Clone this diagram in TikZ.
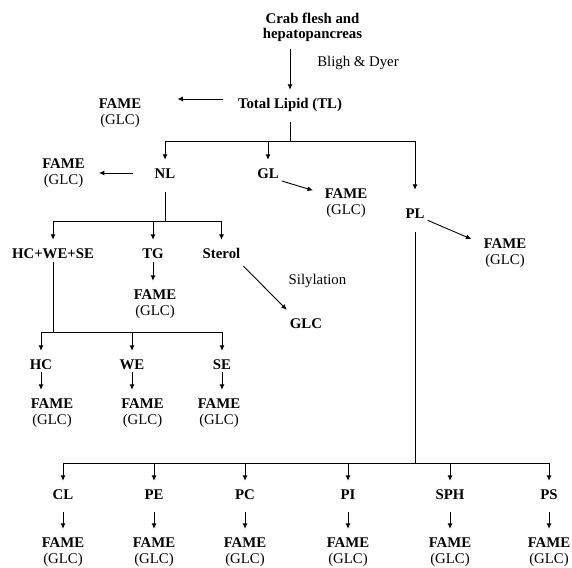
\documentclass[tikz,border=0pt]{standalone}
\usepackage{fontspec}
\setmainfont{Liberation Serif}
\usetikzlibrary{positioning,arrows.meta,calc}
\newcommand{\bodyfont}{\fontsize{14.8}{16}\selectfont}

\begin{document}
\begin{tikzpicture}[
    x=1pt, y=-1pt,
    lab/.style={inner xsep=3pt, inner ysep=8pt, text height=10pt, text depth=0pt,
                font=\bodyfont\bfseries},
    top/.style={align=center, inner xsep=3pt, inner ysep=8pt,
                font=\fontsize{14.8}{15}\selectfont\bfseries},
    paren/.style={inner sep=0pt, text height=10pt, text depth=0pt, font=\bodyfont, yshift=2pt},
    fame/.style={lab, label={[paren]below:(GLC)}},
    note/.style={inner sep=0pt, anchor=base, font=\bodyfont},
    arr/.style={-{Latex[length=5.5pt,width=5pt]}, line width=0.9pt},
    ln/.style={line width=0.9pt}
]
    \useasboundingbox (0,0) rectangle (572,567);

    % extraction
    \node[top] (crab) at (312.5,27) {Crab flesh and\\hepatopancreas};
    \node[note] (bligh) at (358,66.5) {Bligh \& Dyer};
    \node[lab] (tl) at (290,103) {Total Lipid (TL)};
    \node[fame] (ftl) at (120,103) {FAME};

    % lipid classes
    \node[lab] (nl) at (165,173) {NL};
    \node[lab] (gl) at (268,173) {GL};
    \node[lab] (pl) at (415,213) {PL};
    \node[fame] (fnl) at (63.5,163) {FAME};
    \node[fame] (fgl) at (346,193) {FAME};
    \node[fame] (fpl) at (505,243) {FAME};

    % neutral lipids
    \node[lab] (hws) at (53,253) {HC+WE+SE};
    \node[lab] (tg) at (153,253) {TG};
    \node[lab] (sterol) at (221.5,253) {Sterol};
    \node[fame] (ftg) at (155,294) {FAME};
    \node[lab] (glc) at (306,323) {GLC};
    \node[note] (sil) at (317.5,284.5) {Silylation};
    \node[lab] (hc) at (41,364) {HC};
    \node[lab] (we) at (132,364) {WE};
    \node[lab] (se) at (222,364) {SE};
    \node[fame] (fhc) at (52,403) {FAME};
    \node[fame] (fwe) at (142.5,403) {FAME};
    \node[fame] (fse) at (219,403) {FAME};

    \coordinate (tlj) at (290,141);
    \coordinate (nlj) at (165,221);
    \coordinate (hj) at (53,332);
    \coordinate (plj) at (415,463);

    \draw[arr] (crab.south -| tl) -- (tl);
    \draw[arr, shorten <=12pt, shorten >=33pt] ([yshift=4pt]tl.west) -- ([yshift=4pt]ftl.east);
    \draw[ln, shorten <=6pt] (tl) -- (tlj);
    \draw[arr] (tlj) -| (nl);
    \draw[arr] (tlj) -| (gl);
    \draw[arr, shorten >=10pt] (tlj) -| (pl);
    \draw[arr, shorten <=19pt, shorten >=11pt] (nl.west) -- (nl.west -| fnl.east);
    \draw[arr, shorten >=9pt] (gl.-30) -- (fgl.west);
    \draw[arr, shorten >=10pt] (pl.-30) -- (fpl.west);

    \draw[ln, shorten <=6pt] (nl) -- (nlj);
    \draw[arr] (nlj) -| (hws);
    \draw[arr] (nlj) -| (tg);
    \draw[arr] (nlj) -| (sterol);
    \draw[arr, shorten <=-4pt] (tg.south) -- (tg.south |- ftg.north);
    \draw[arr] (sterol.south east) -- (glc.north west);
    \draw[ln, shorten <=-4pt] (hws) -- (hj);
    \draw[arr] (hj) -| (hc);
    \draw[arr] (hj) -| (we);
    \draw[arr] (hj) -| (se);
    \draw[arr, shorten <=-5pt] (hc.south) -- (hc.south |- fhc.north);
    \draw[arr, shorten <=-5pt] (we.south) -- (we.south |- fwe.north);
    \draw[arr, shorten <=-5pt] (se.south) -- (se.south |- fse.north);

    % phospholipids
    \draw[ln, shorten <=6pt] (pl) -- (plj);
    \foreach \n/\x in {CL/63,PE/154,PC/245,PI/348,SPH/450,PS/549} {
        \node[lab] (\n) at (\x,494) {\n};
        \node[fame] (f\n) at (\x,542) {FAME};
        \draw[arr] (plj) -| (\n);
        \draw[arr, shorten <=5pt] (\n) -- (f\n);
    }
\end{tikzpicture}
\end{document}
